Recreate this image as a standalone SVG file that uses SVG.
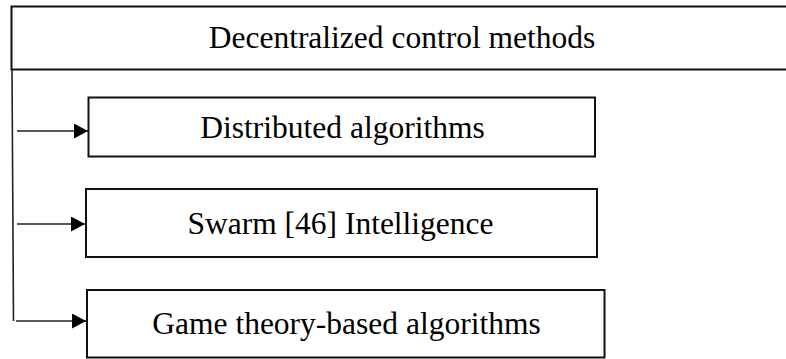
<svg xmlns="http://www.w3.org/2000/svg" width="786" height="359" viewBox="0 0 786 359">
  <defs>
    <marker id="arrow" markerUnits="userSpaceOnUse" markerWidth="15" markerHeight="15" refX="14" refY="7.5" orient="auto">
      <path d="M0,0 L14,7.5 L0,15 Z" fill="#000"/>
    </marker>
    <style>
      .box { fill: #fff; stroke: #111; stroke-width: 2; }
      .lbl { font-family: "Liberation Serif", "Times New Roman", serif; font-size: 31.5px; fill: #000; text-anchor: middle; }
      .conn { stroke: #222; stroke-width: 1.6; fill: none; }
    </style>
  </defs>
  <rect width="786" height="359" fill="#fff"/>

  <g id="connectors">
    <line class="conn" x1="12" y1="69.5" x2="13.5" y2="321"/>
    <line class="conn" x1="17" y1="131" x2="88" y2="131" marker-end="url(#arrow)"/>
    <line class="conn" x1="17" y1="224" x2="85" y2="224" marker-end="url(#arrow)"/>
    <line class="conn" x1="16" y1="321" x2="86" y2="321" marker-end="url(#arrow)"/>
  </g>

  <g id="root">
    <rect class="box" x="11.5" y="6.5" width="790" height="63"/>
    <text class="lbl" x="402" y="47.5">Decentralized control methods</text>
  </g>

  <g id="distributed">
    <rect class="box" x="88.5" y="97.5" width="506.5" height="59"/>
    <text class="lbl" x="342.5" y="138">Distributed algorithms</text>
  </g>

  <g id="swarm">
    <rect class="box" x="86" y="189" width="511" height="68"/>
    <text class="lbl" x="340.5" y="233.5">Swarm [46] Intelligence</text>
  </g>

  <g id="game">
    <rect class="box" x="87" y="290" width="517.5" height="67.5"/>
    <text class="lbl" x="346.5" y="333.5">Game theory-based algorithms</text>
  </g>
</svg>
